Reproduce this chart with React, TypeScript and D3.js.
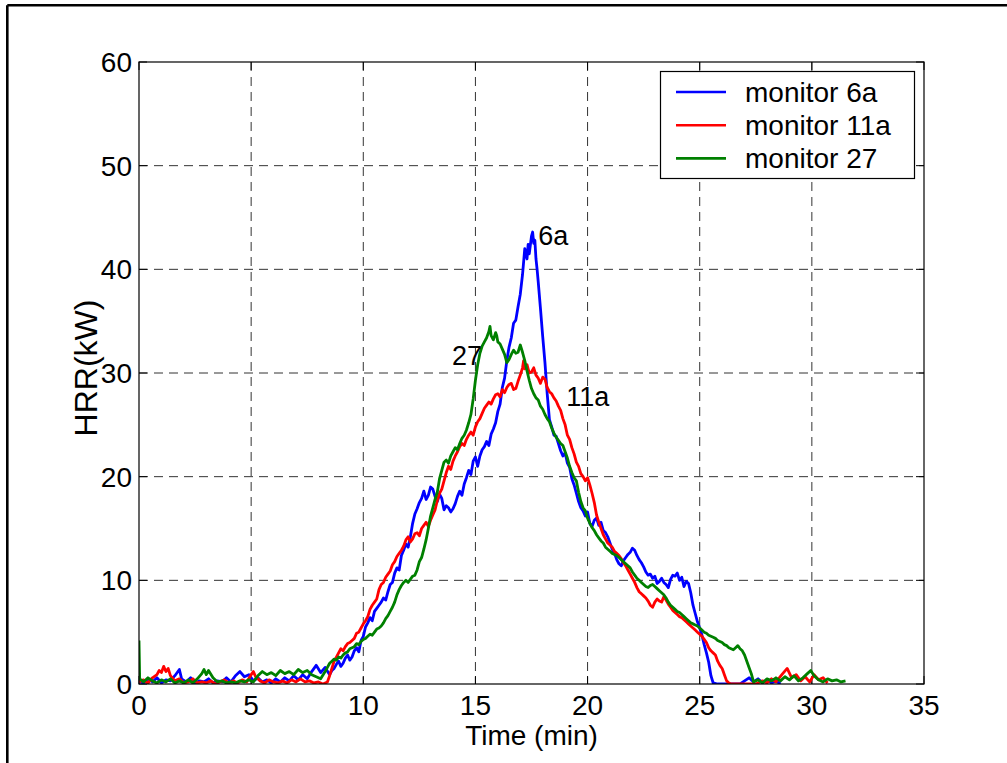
import React from "react";
import * as d3 from "d3";

const xTicks = [0, 5, 10, 15, 20, 25, 30, 35];
const yTicks = [0, 10, 20, 30, 40, 50, 60];
const seriesNames = ["monitor 6a", "monitor 11a", "monitor 27"];
const seriesColors = ["#0000ff", "#ff0000", "#008000"];

const blue6a: [number, number][] = [
  [0,0.3],[0.2,0.1],[0.4,0.5],[0.6,0.2],[0.8,0.6],[1.0,0.1],[1.2,0.4],[1.4,0.3],[1.6,0.8],[1.8,1.4],[1.9,0.5],[2.1,0.2],[2.3,0.6],[2.5,0.1],[2.7,0.3],[2.9,0.2],[3.1,0.5],[3.3,0.1],[3.5,0.3],[3.7,0.2],[3.9,0.6],[4.1,0.2],[4.3,0.8],[4.5,1.2],[4.7,0.7],[4.9,0.9],[5.1,0.3],[5.3,0.6],[5.5,0.2],[5.7,0.4],[5.9,0.1],[6.1,0.5],[6.3,0.2],[6.5,0.6],[6.7,0.3],[6.9,0.8],[7.1,0.4],[7.3,0.9],[7.5,0.5],[7.7,1.2],[7.9,1.8],[8.1,1.1],[8.3,1.6],
  [8.5,0.9],[8.6,1.3],[8.7,1.5],[8.8,1.9],[8.9,2.2],[9.0,1.7],[9.1,2.0],[9.2,2.5],[9.3,2.8],[9.4,2.3],[9.5,2.6],[9.6,3.2],[9.7,3.5],[9.8,3.1],[9.9,4.2],[10.0,4.6],[10.1,5.5],[10.2,5.9],[10.3,6.4],[10.4,6.1],[10.5,7.0],[10.6,7.3],[10.7,7.6],[10.8,7.9],[10.9,8.3],[11.0,8.1],[11.1,8.9],[11.2,9.6],[11.3,9.8],[11.4,10.7],[11.5,11.2],[11.6,11.0],[11.7,12.4],[11.8,12.9],[11.9,13.5],[12.0,13.2],[12.1,14.2],[12.2,15.5],[12.3,16.4],[12.4,16.9],[12.5,17.5],[12.6,17.9],[12.7,18.6],[12.8,17.8],[12.9,18.2],[13.0,19.0],[13.1,18.8],[13.2,18.1],[13.3,17.6],[13.4,18.3],[13.5,17.9],[13.6,16.8],[13.7,17.2],[13.8,17.0],[13.9,16.6],[14.0,16.9],[14.1,17.4],[14.2,18.1],[14.3,18.6],[14.4,18.2],[14.5,19.3],[14.6,19.9],[14.7,20.6],[14.8,20.2],[14.9,21.5],[15.0,21.9],[15.1,21.0],[15.2,22.0],[15.3,22.6],[15.4,22.9],[15.5,23.4],[15.6,23.0],[15.7,24.1],[15.8,24.6],[15.9,25.2],[16.0,26.3],[16.1,27.0],[16.2,28.6],[16.3,29.5],[16.4,31.2],[16.5,32.5],[16.6,33.4],[16.7,34.8],[16.8,35.1],[16.9,36.4],[17.0,37.6],[17.1,39.5],[17.2,42.0],[17.3,41.0],[17.35,42.4],[17.4,41.5],[17.5,43.2],[17.55,43.6],[17.6,42.5],[17.65,42.8],[17.7,41.0],[17.75,40.0],[17.8,38.8],[17.9,36.2],[18.0,33.5],[18.1,31.0],[18.2,28.0],[18.3,25.5],[18.4,24.8],[18.5,24.0],[18.6,23.9],[18.7,23.2],[18.8,22.5],[18.9,22.0],[19.0,22.3],[19.1,21.3],[19.2,20.9],[19.3,19.8],[19.4,19.2],[19.5,18.4],[19.6,17.6],[19.7,17.0],[19.8,16.7],[19.9,16.2],[20.0,16.6],[20.1,15.5],[20.2,15.2],[20.3,15.8],[20.4,16.0],[20.5,15.3],[20.6,15.6],[20.7,14.8],[20.8,14.6],[20.9,14.2],[21.0,13.6],[21.1,13.0],[21.2,12.6],[21.3,12.0],[21.4,11.6],[21.5,11.4],[21.6,11.9],[21.7,12.2],[21.8,12.5],[21.9,12.7],[22.0,13.1],[22.1,12.9],[22.2,12.4],[22.3,12.0],[22.4,11.7],[22.5,11.3],[22.6,10.8],[22.7,10.5],[22.8,10.6],[22.9,10.2],[23.0,10.4],[23.1,9.7],[23.2,9.9],[23.3,10.2],[23.4,9.8],[23.5,9.6],[23.6,9.3],[23.7,10.1],[23.8,10.5],[23.9,10.4],[24.0,10.7],[24.1,10.0],[24.2,10.3],[24.3,9.4],[24.4,9.9],[24.5,9.7],[24.6,8.8],[24.7,7.6],[24.8,6.8],[24.9,6.0],[25.0,5.4],[25.1,4.7],[25.2,3.8],[25.3,3.0],[25.4,2.1],[25.5,0.8],[25.6,0.1],
  [25.8,0],[26.2,0],[26.8,0],[27.0,0.3],[27.2,0.6],[27.4,0.2],[27.6,0.5],[27.8,0.1],[28.0,0.4],[28.2,0.1],[28.4,0.3],[28.6,0]
];

const red11a: [number, number][] = [
  [0,0.2],[0.2,0.4],[0.4,0.1],[0.6,0.6],[0.8,0.9],[0.9,1.3],[1.0,1.1],[1.1,1.7],[1.2,1.2],[1.3,1.5],[1.4,0.8],[1.6,0.3],[1.8,0.5],[2.0,0.1],[2.2,0.2],[2.4,0.5],[2.6,0.1],[2.8,0.2],[3.0,0.1],[3.2,0.3],[3.4,0],[3.6,0.2],[3.8,0.4],[4.0,0.1],[4.2,0.3],[4.4,0.1],[4.6,0.4],[4.8,0.2],[5.0,0.9],[5.1,1.2],[5.2,0.7],[5.4,0.3],[5.6,0.1],[5.8,0.4],[6.0,0.2],[6.2,0.1],[6.4,0.3],[6.6,0.1],[6.8,0.4],[7.0,0.2],[7.2,0.5],[7.4,0.2],[7.6,0.3],[7.8,0.1],[8.0,0.2],[8.2,0],
  [8.4,0.2],[8.5,0.8],[8.6,1.5],[8.7,2.2],[8.8,2.6],[8.9,3.0],[9.0,3.4],[9.1,3.2],[9.2,3.6],[9.3,3.9],[9.4,4.0],[9.5,4.2],[9.6,4.4],[9.7,4.9],[9.8,5.0],[9.9,5.4],[10.0,5.8],[10.1,6.1],[10.2,6.5],[10.3,7.2],[10.4,7.6],[10.5,7.9],[10.6,8.2],[10.7,9.1],[10.8,9.6],[10.9,9.8],[11.0,10.3],[11.1,10.6],[11.2,10.9],[11.3,11.5],[11.4,11.8],[11.5,12.3],[11.6,12.6],[11.7,12.9],[11.8,13.3],[11.9,13.9],[12.0,14.2],[12.1,13.7],[12.2,14.0],[12.3,14.5],[12.4,14.6],[12.5,14.3],[12.6,15.0],[12.7,15.3],[12.8,15.6],[12.9,15.2],[13.0,15.8],[13.1,16.3],[13.2,16.8],[13.3,17.7],[13.4,18.4],[13.5,18.8],[13.6,19.6],[13.7,20.4],[13.8,21.0],[13.9,20.7],[14.0,21.5],[14.1,22.0],[14.2,22.4],[14.3,22.9],[14.4,23.2],[14.5,23.0],[14.6,23.6],[14.7,24.0],[14.8,24.3],[14.9,24.0],[15.0,24.8],[15.1,25.3],[15.2,25.6],[15.3,26.1],[15.4,26.6],[15.5,26.9],[15.6,27.2],[15.7,27.0],[15.8,27.5],[15.9,27.9],[16.0,28.0],[16.1,27.7],[16.2,28.4],[16.3,28.1],[16.4,28.6],[16.5,28.9],[16.6,29.0],[16.7,28.4],[16.8,28.5],[16.9,29.2],[17.0,29.8],[17.1,30.5],[17.15,31.2],[17.2,30.4],[17.3,30.8],[17.4,30.0],[17.5,30.1],[17.6,30.5],[17.7,29.8],[17.8,29.5],[17.9,29.0],[18.0,29.6],[18.1,29.4],[18.2,28.6],[18.3,28.2],[18.4,28.0],[18.5,27.6],[18.6,27.3],[18.7,26.8],[18.8,26.4],[18.9,25.6],[19.0,25.0],[19.1,24.0],[19.2,23.6],[19.3,22.8],[19.4,22.2],[19.5,21.4],[19.6,21.0],[19.7,20.3],[19.8,20.0],[19.9,19.6],[20.0,19.9],[20.1,19.2],[20.2,18.4],[20.3,17.5],[20.4,16.3],[20.5,15.6],[20.6,15.0],[20.7,14.4],[20.8,14.0],[20.9,13.6],[21.0,13.4],[21.1,13.2],[21.2,12.8],[21.3,12.6],[21.4,12.4],[21.5,12.1],[21.6,11.7],[21.7,11.4],[21.8,11.0],[21.9,10.6],[22.0,10.2],[22.1,9.8],[22.2,9.3],[22.3,8.9],[22.4,8.7],[22.5,8.5],[22.6,8.3],[22.7,8.0],[22.8,7.6],[22.9,7.4],[23.0,7.9],[23.1,8.2],[23.2,8.0],[23.3,7.9],[23.4,8.4],[23.5,8.1],[23.6,7.7],[23.7,7.4],[23.8,7.1],[23.9,6.9],[24.0,6.7],[24.1,6.5],[24.2,6.4],[24.3,6.2],[24.4,6.0],[24.5,5.8],[24.6,5.6],[24.7,5.4],[24.8,5.2],[24.9,5.0],[25.0,4.8],[25.1,4.6],[25.2,4.3],[25.3,4.0],[25.4,3.5],[25.5,3.2],[25.6,3.0],[25.7,2.8],[25.8,2.2],[25.9,1.8],[26.0,1.5],[26.05,1.2],[26.1,0.9],[26.2,0.3],[26.3,0.1],[26.4,0],
  [26.6,0],[27.5,0],[27.8,0.3],[28.0,0.1],[28.2,0.5],[28.4,0.2],[28.7,1.0],[28.9,1.5],[29.1,0.6],[29.3,0.9],[29.5,0.3],[29.7,0.7],[29.9,0.2],[30.1,0.9],[30.3,0.4],[30.5,0.6],[30.7,0.1]
];

const green27: [number, number][] = [
  [0,4.2],[0.03,0.5],[0.2,0.2],[0.4,0.6],[0.6,0.3],[0.8,0.1],[1.0,0.4],[1.2,0.2],[1.4,0.5],[1.6,0.1],[1.8,0.3],[2.0,0.1],[2.2,0.4],[2.4,0.1],[2.6,0.5],[2.8,1.0],[2.9,1.4],[3.0,0.9],[3.1,1.3],[3.3,0.6],[3.5,0.2],[3.7,0.3],[3.9,0.1],[4.1,0.2],[4.3,0.1],[4.5,0.3],[4.7,0.2],[4.9,0.4],[5.1,0.2],[5.3,0.8],[5.5,1.2],[5.7,0.9],[5.9,1.1],[6.1,0.8],[6.3,1.3],[6.5,1.0],[6.7,1.2],[6.9,0.9],[7.1,1.4],[7.3,1.1],[7.5,1.3],[7.7,0.9],[7.9,0.7],[8.1,0.5],
  [8.3,1.2],[8.4,1.6],[8.5,2.0],[8.6,2.2],[8.7,2.4],[8.8,2.3],[8.9,2.6],[9.0,2.5],[9.1,2.8],[9.2,3.0],[9.3,3.1],[9.4,3.4],[9.5,3.5],[9.6,3.6],[9.7,3.9],[9.8,3.8],[9.9,4.1],[10.0,4.3],[10.1,4.4],[10.2,4.6],[10.3,4.8],[10.4,4.7],[10.5,5.0],[10.6,5.3],[10.7,5.4],[10.8,5.6],[10.9,5.9],[11.0,6.3],[11.1,6.6],[11.2,7.0],[11.3,7.4],[11.4,7.9],[11.5,8.6],[11.6,9.1],[11.7,9.5],[11.8,9.8],[11.9,10.0],[12.0,9.8],[12.1,10.1],[12.2,10.4],[12.3,10.5],[12.4,11.0],[12.5,11.8],[12.6,12.2],[12.7,13.0],[12.8,13.9],[12.9,15.0],[13.0,16.2],[13.1,17.0],[13.2,17.8],[13.3,18.5],[13.4,19.8],[13.5,20.6],[13.6,21.4],[13.7,21.6],[13.8,21.3],[13.9,22.0],[14.0,22.4],[14.1,22.8],[14.2,22.6],[14.3,23.2],[14.4,23.7],[14.5,24.0],[14.6,24.5],[14.7,25.2],[14.8,26.0],[14.9,27.5],[15.0,29.3],[15.1,30.8],[15.2,31.9],[15.3,32.6],[15.4,33.0],[15.5,33.4],[15.6,34.0],[15.65,34.5],[15.7,33.6],[15.8,33.2],[15.9,33.9],[15.95,33.6],[16.0,33.0],[16.1,32.8],[16.2,32.3],[16.3,31.8],[16.4,31.0],[16.5,31.3],[16.6,31.8],[16.7,32.2],[16.8,31.9],[16.9,32.0],[17.0,32.7],[17.1,32.0],[17.2,31.2],[17.3,30.2],[17.4,29.3],[17.5,28.5],[17.6,28.0],[17.7,27.6],[17.8,27.4],[17.9,26.8],[18.0,26.5],[18.1,26.0],[18.2,25.6],[18.3,25.3],[18.4,24.7],[18.5,24.2],[18.6,23.8],[18.7,23.5],[18.8,23.2],[18.9,23.0],[19.0,22.4],[19.1,21.8],[19.2,21.0],[19.3,20.4],[19.4,19.9],[19.5,19.6],[19.6,18.5],[19.7,17.6],[19.8,17.0],[19.9,16.7],[20.0,16.0],[20.1,15.5],[20.2,15.1],[20.3,14.8],[20.4,14.4],[20.5,14.1],[20.6,13.8],[20.7,13.6],[20.8,13.2],[20.9,13.0],[21.0,12.8],[21.1,12.6],[21.2,12.5],[21.3,12.4],[21.4,12.2],[21.5,12.0],[21.6,11.8],[21.7,11.6],[21.8,11.4],[21.9,11.2],[22.0,10.8],[22.1,10.5],[22.2,10.2],[22.3,10.0],[22.4,9.8],[22.5,9.6],[22.6,9.4],[22.7,9.3],[22.8,9.5],[22.9,9.6],[23.0,9.4],[23.1,9.2],[23.2,9.0],[23.3,8.8],[23.4,8.6],[23.5,8.3],[23.6,7.9],[23.7,7.6],[23.8,7.4],[23.9,7.2],[24.0,7.0],[24.1,6.9],[24.2,6.7],[24.3,6.5],[24.4,6.3],[24.5,6.1],[24.6,5.9],[24.7,5.8],[24.8,5.7],[24.9,5.6],[25.0,5.4],[25.1,5.2],[25.2,5.0],[25.3,4.9],[25.4,4.7],[25.5,4.6],[25.6,4.5],[25.7,4.4],[25.8,4.2],[25.9,4.1],[26.0,4.0],[26.1,3.8],[26.2,3.7],[26.3,3.5],[26.4,3.4],[26.5,3.3],[26.6,3.5],[26.7,3.7],[26.8,3.4],[26.9,3.2],[27.0,2.8],[27.1,2.2],[27.2,1.6],[27.3,1.0],[27.4,0.2],
  [27.6,0.4],[27.8,0.1],[28.0,0.5],[28.2,0.3],[28.4,0.6],[28.6,0.3],[28.8,0.7],[29.0,0.4],[29.2,0.8],[29.4,0.3],[29.6,0.6],[29.8,1.0],[29.95,1.3],[30.1,0.8],[30.3,0.4],[30.5,0.2],[30.7,0.5],[30.9,0.3],[31.1,0.4],[31.3,0.2],[31.5,0.3]
];

const seriesData = [blue6a, red11a, green27];
const annotations: { text: string; t: number; v: number }[] = [
  { text: "6a", t: 17.8, v: 42.3 },
  { text: "27", t: 13.95, v: 30.8 },
  { text: "11a", t: 19.05, v: 26.8 },
];

const W = 1007, H = 763;
const L = 139, R = 924, T = 62, B = 684;
const FONT = "'Liberation Sans', Arial, Helvetica, sans-serif";

export default function App() {
  const x = d3.scaleLinear().domain([0, 35]).range([L, R]);
  const y = d3.scaleLinear().domain([0, 60]).range([B, T]);
  const line = d3.line<[number, number]>().x(d => x(d[0])).y(d => y(d[1]));
  const tickLen = 8;
  return (
    <svg width={W} height={H} style={{ position: "absolute", left: 0, top: 0, background: "#fff" }} fontFamily={FONT}>
      <rect x={0} y={0} width={W} height={H} fill="#fff" />
      <line x1={7.3} y1={5.3} x2={W + 5} y2={5.3} stroke="#000" strokeWidth={2.6} />
      <line x1={7.3} y1={5.3} x2={7.3} y2={H + 5} stroke="#000" strokeWidth={2.6} />
      {xTicks.slice(1, -1).map(t => (
        <line key={"gx" + t} x1={x(t)} x2={x(t)} y1={T} y2={B} stroke="#333" strokeWidth={1} strokeDasharray="9,6" />
      ))}
      {yTicks.slice(1, -1).map(t => (
        <line key={"gy" + t} x1={L} x2={R} y1={y(t)} y2={y(t)} stroke="#333" strokeWidth={1} strokeDasharray="9,6" />
      ))}
      {xTicks.map(t => (
        <g key={"tx" + t}>
          <line x1={x(t)} x2={x(t)} y1={B} y2={B - tickLen} stroke="#000" />
          <line x1={x(t)} x2={x(t)} y1={T} y2={T + tickLen} stroke="#000" />
          <text x={x(t)} y={B + 31} textAnchor="middle" fontSize={28}>{t}</text>
        </g>
      ))}
      {yTicks.map(t => (
        <g key={"ty" + t}>
          <line x1={L} x2={L + tickLen} y1={y(t)} y2={y(t)} stroke="#000" />
          <line x1={R} x2={R - tickLen} y1={y(t)} y2={y(t)} stroke="#000" />
          <text x={L - 7} y={y(t) + 10} textAnchor="end" fontSize={28}>{t}</text>
        </g>
      ))}
      <defs>
        <clipPath id="clip"><rect x={L} y={T - 2} width={R - L} height={B - T + 2} /></clipPath>
      </defs>
      <g clipPath="url(#clip)">
        {seriesData.map((s, i) => (
          <path key={i} d={line(s) || ""} fill="none" stroke={seriesColors[i]} strokeWidth={2.8} strokeLinejoin="round" />
        ))}
      </g>
      <rect x={L} y={T} width={R - L} height={B - T} fill="none" stroke="#000" strokeWidth={1.2} />
      {annotations.map(a => (
        <text key={a.text} x={x(a.t)} y={y(a.v)} fontSize={27}>{a.text}</text>
      ))}
      <rect x={660.5} y={71.5} width={254} height={107} fill="#fff" stroke="#000" strokeWidth={1.2} />
      {seriesNames.map((n, i) => (
        <g key={n}>
          <line x1={676} x2={726} y1={92 + i * 33.2} y2={92 + i * 33.2} stroke={seriesColors[i]} strokeWidth={2.6} />
          <text x={745} y={92 + i * 33.2 + 10} fontSize={28}>{n}</text>
        </g>
      ))}
      <text x={(L + R) / 2} y={745} textAnchor="middle" fontSize={28}>Time (min)</text>
      <text transform={`translate(97,368) rotate(-90)`} textAnchor="middle" fontSize={32}>HRR(kW)</text>
    </svg>
  );
}
